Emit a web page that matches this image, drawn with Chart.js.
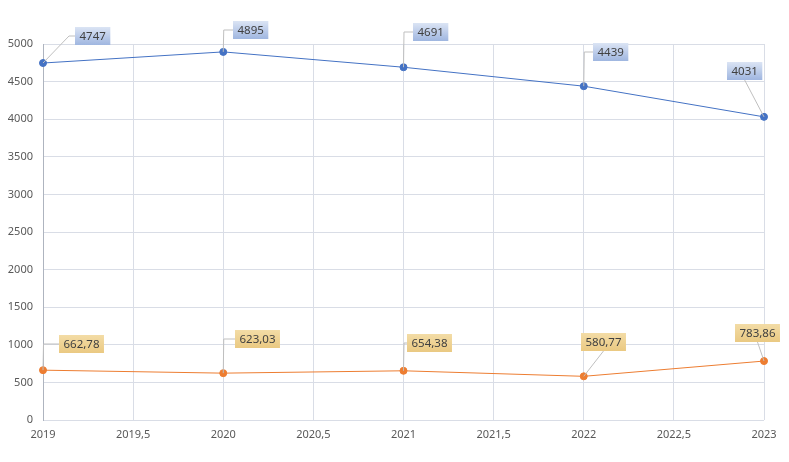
<!DOCTYPE html>
<html>
<head>
<meta charset="utf-8">
<script src="https://cdn.jsdelivr.net/npm/chart.js@4.4.1/dist/chart.umd.min.js"></script>
<style>
  html, body { margin: 0; padding: 0; background: #ffffff; }
  #wrap { width: 789px; height: 462px; }
</style>
</head>
<body>
<div id="wrap"><canvas id="chartPlaceholder" width="789" height="462"></canvas></div>
<script>
const YEARS = [2019, 2020, 2021, 2022, 2023];
const SERIES_A = [4747, 4895, 4691, 4439, 4031];
const SERIES_B = [662.78, 623.03, 654.38, 580.77, 783.86];

const FONT = "'Noto Sans', 'Open Sans', sans-serif";

function formatComma(v, digits) {
  return v.toFixed(digits).replace(".", ",");
}

// label box offsets (box left/top relative to the point) and leader style
const LABEL_LAYOUT = {
  0: [
    { dx: 32, dy: -36, leader: "elbow" },
    { dx: 10, dy: -31, leader: "elbow" },
    { dx: 9, dy: -44, leader: "elbow" },
    { dx: 9, dy: -43, leader: "elbow" },
    { dx: -37, dy: -55, leader: "down" },
  ],
  1: [
    { dx: 16, dy: -35, leader: "elbow" },
    { dx: 12, dy: -43, leader: "elbow" },
    { dx: 3, dy: -37, leader: "elbow" },
    { dx: -3, dy: -43, leader: "down" },
    { dx: -29, dy: -37, leader: "down" },
  ],
};

const dataLabelPlugin = {
  id: "boxLabels",
  afterDatasetsDraw(chart) {
    const ctx = chart.ctx;
    ctx.save();
    ctx.font = "11.5px " + FONT;
    chart.data.datasets.forEach((ds, di) => {
      const meta = chart.getDatasetMeta(di);
      meta.data.forEach((pt, i) => {
        const v = ds.data[i].y;
        const text = di === 0 ? String(v) : formatComma(v, 2);
        const lay = LABEL_LAYOUT[di][i];
        const w = ctx.measureText(text).width + 9;
        const h = 18;
        const bx = Math.round(pt.x + lay.dx);
        const by = Math.round(pt.y + lay.dy);

        // leader line
        ctx.strokeStyle = "#bfbfbf";
        ctx.lineWidth = 1;
        ctx.beginPath();
        if (lay.leader === "elbow") {
          const midY = by + h / 2;
          const cornerX = lay.dx > 20 ? bx - 6 : pt.x + 0.5;
          ctx.moveTo(pt.x, pt.y);
          ctx.lineTo(cornerX, midY);
          ctx.lineTo(bx, midY);
        } else {
          ctx.moveTo(pt.x, pt.y);
          ctx.lineTo(bx + w / 2, by + h);
        }
        ctx.stroke();

        // box
        const g = ctx.createLinearGradient(0, by, 0, by + h);
        if (di === 0) {
          g.addColorStop(0, "#dbe4f4");
          g.addColorStop(1, "#9fb6e0");
        } else {
          g.addColorStop(0, "#f3dca6");
          g.addColorStop(1, "#eac982");
        }
        ctx.fillStyle = g;
        ctx.fillRect(bx, by, w, h);

        ctx.fillStyle = "#404040";
        ctx.textAlign = "left";
        ctx.textBaseline = "middle";
        ctx.fillText(text, bx + 4.5, by + h / 2 + 0.5);
      });
    });
    ctx.restore();
  },
};

const ctx = document.getElementById("chartPlaceholder").getContext("2d");
new Chart(ctx, {
  type: "line",
  data: {
    datasets: [
      {
        label: "A",
        data: YEARS.map((x, i) => ({ x: x, y: SERIES_A[i] })),
        borderColor: "#4472c4",
        backgroundColor: "#4472c4",
        borderWidth: 1,
        pointRadius: 3.5,
        pointHoverRadius: 3.5,
        tension: 0,
        clip: false,
      },
      {
        label: "B",
        data: YEARS.map((x, i) => ({ x: x, y: SERIES_B[i] })),
        borderColor: "#ed7d31",
        backgroundColor: "#ed7d31",
        borderWidth: 1,
        pointRadius: 3.5,
        pointHoverRadius: 3.5,
        tension: 0,
        clip: false,
      },
    ],
  },
  options: {
    responsive: false,
    animation: false,
    layout: { padding: { top: 44, right: 25, bottom: 18, left: 0 } },
    plugins: {
      legend: { display: false },
      tooltip: { enabled: false },
    },
    scales: {
      x: {
        type: "linear",
        min: 2019,
        max: 2023,
        ticks: {
          stepSize: 0.5,
          padding: 8,
          color: "#595959",
          font: { family: FONT, size: 11 },
          callback: (v) => formatComma(v, v % 1 === 0 ? 0 : 1),
        },
        grid: { color: "#d9dde6", drawTicks: false },
        border: { display: false },
        afterFit: (s) => { s.height = 24; },
      },
      y: {
        min: 0,
        max: 5000,
        ticks: {
          stepSize: 500,
          padding: 10,
          color: "#595959",
          font: { family: FONT, size: 11 },
          callback: (v) => String(v),
        },
        grid: { color: "#d9dde6", drawTicks: false },
        border: { color: "#aeb4bf" },
        afterFit: (s) => { s.width = 43; },
      },
    },
  },
  plugins: [dataLabelPlugin],
});
</script>
</body>
</html>
